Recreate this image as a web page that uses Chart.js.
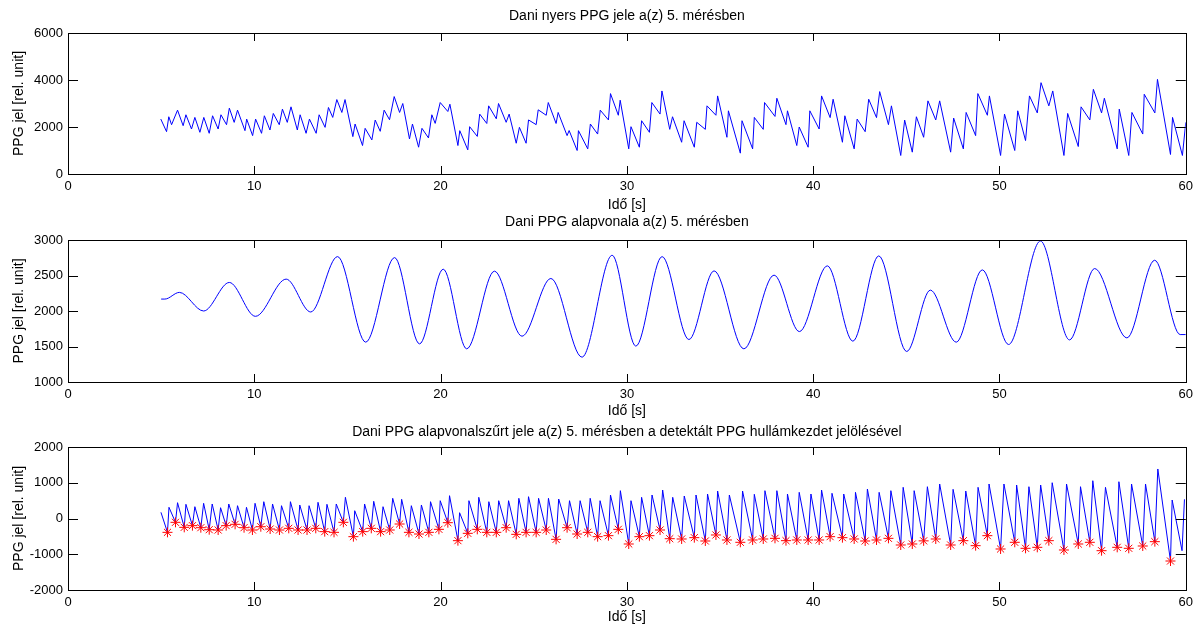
<!DOCTYPE html>
<html>
<head>
<meta charset="utf-8">
<script src="https://cdn.jsdelivr.net/npm/chart.js@4.4.1/dist/chart.umd.min.js"></script>
<style>
  body { margin: 0; background: #fff; }
  .panel { position: absolute; left: 0; width: 1198px; }
</style>
</head>
<body>
<div class="panel" style="top:0px;height:215px"><canvas id="rawChart" width="1198" height="215"></canvas></div>
<div class="panel" style="top:215px;height:205px"><canvas id="baseChart" width="1198" height="205"></canvas></div>
<div class="panel" style="top:420px;height:210px"><canvas id="filtChart" width="1198" height="210"></canvas></div>
<script>
// titles
var titleRaw = 'Dani nyers PPG jele a(z) 5. mérésben';
var titleBase = 'Dani PPG alapvonala a(z) 5. mérésben';
var titleFilt = 'Dani PPG alapvonalszűrt jele a(z) 5. mérésben a detektált PPG hullámkezdet jelölésével';
var xLabel = 'Idő [s]';
var yLabel = 'PPG jel [rel. unit]';

// tick labels
var xTicks = [0, 10, 20, 30, 40, 50, 60];
var rawTicks = [0, 2000, 4000, 6000];
var baseTicks = [1000, 1500, 2000, 2500, 3000];
var filtTicks = [-2000, -1000, 0, 1000, 2000];

// raw signal
var rawTimes = [4.98, 5.29, 5.41, 5.56, 5.88, 6.18, 6.33, 6.63, 6.81, 7.08, 7.29, 7.58, 7.76, 8.06, 8.21, 8.51, 8.66, 8.92, 9.10, 9.50,
  9.59, 9.91, 10.07, 10.39, 10.54, 10.84, 11.02, 11.34, 11.51, 11.77, 11.97, 12.31, 12.46, 12.78, 12.96, 13.32, 13.48, 13.80, 13.98, 14.21,
  14.43, 14.70, 14.87, 15.29, 15.41, 15.81, 15.95, 16.31, 16.49, 16.76, 16.97, 17.26, 17.51, 17.80, 17.97, 18.33, 18.49, 18.82, 19.00, 19.35,
  19.53, 19.71, 19.98, 20.39, 20.50, 20.93, 21.03, 21.46, 21.56, 21.97, 22.10, 22.48, 22.58, 22.99, 23.11, 23.52, 23.68, 24.06, 24.23, 24.59,
  24.72, 25.13, 25.24, 25.67, 25.78, 26.20, 26.31, 26.79, 26.90, 27.33, 27.40, 27.90, 28.04, 28.43, 28.57, 29.01, 29.12, 29.54, 29.64, 30.10,
  30.22, 30.67, 30.79, 31.21, 31.34, 31.78, 31.88, 32.30, 32.45, 32.94, 33.07, 33.62, 33.75, 34.21, 34.30, 34.78, 34.87, 35.37, 35.45, 36.09,
  36.18, 36.75, 36.84, 37.32, 37.39, 37.95, 38.05, 38.54, 38.62, 39.12, 39.25, 39.73, 39.82, 40.32, 40.45, 40.91, 41.07, 41.57, 41.70, 42.20,
  42.36, 42.79, 42.98, 43.40, 43.57, 44.04, 44.20, 44.70, 44.91, 45.32, 45.54, 45.93, 46.16, 46.58, 46.79, 47.38, 47.54, 48.06, 48.21, 48.72,
  48.84, 49.35, 49.46, 50.06, 50.27, 50.82, 50.98, 51.40, 51.61, 52.03, 52.23, 52.65, 52.86, 53.46, 53.66, 54.23, 54.38, 54.85, 55.04, 55.48,
  55.63, 56.32, 56.43, 56.94, 57.11, 57.69, 57.77, 58.34, 58.48, 59.18, 59.29, 59.82, 60.00];
var rawValues = [2338, 1802, 2436, 2098, 2717, 2056, 2520, 1915, 2408, 1774, 2408, 1732, 2478, 1915, 2520, 2098, 2802, 2197, 2717, 1844,
  2337, 1633, 2337, 1732, 2478, 1873, 2577, 2098, 2760, 2197, 2858, 1873, 2520, 1732, 2337, 1732, 2520, 1985, 2830, 2408,
  3168, 2619, 3168, 1591, 2126, 1211, 1943, 1450, 2295, 1816, 2717, 2309, 3295, 2619, 2999, 1492, 2126, 1140, 1943, 1535,
  2520, 2154, 3041, 2660, 2970, 1211, 1844, 1028, 2013, 1600, 2548, 2150, 2900, 2350, 2999, 2200, 2548, 1309, 1985, 1309,
  2300, 2100, 2731, 2500, 3041, 2150, 2619, 1633, 1850, 1000, 1844, 1070, 2126, 1700, 2717, 2300, 3421, 2500, 3140, 1070,
  2013, 1140, 2267, 1774, 3041, 2550, 3534, 1900, 2436, 1351, 2267, 1140, 2200, 1900, 2900, 2500, 3323, 1563, 2689, 887,
  2267, 1070, 2408, 1900, 3041, 2450, 3224, 2100, 2689, 1211, 2000, 1140, 2689, 1915, 3323, 2400, 3182, 1351, 2478, 1070,
  2337, 1800, 3182, 2400, 3506, 2100, 2900, 788, 2295, 929, 2436, 1563, 3112, 2300, 3112, 929, 2380, 1070, 2619, 1633,
  3421, 2500, 3323, 788, 2548, 1000, 2689, 1422, 3323, 2600, 3886, 2900, 3534, 788, 2577, 1169, 2858, 2300, 3604, 2600,
  3224, 1070, 2760, 788, 2619, 1700, 3393, 2600, 4027, 831, 2408, 788, 2197];

// baseline (middle panel), turning points of the wave
var baseTimes = [5.00, 5.20, 5.98, 7.28, 8.66, 10.06, 11.71, 13.03, 14.47, 15.98, 17.53, 18.87, 20.14, 21.40, 22.89, 24.37, 25.92, 27.59,
  29.21, 30.48, 31.89, 33.33, 34.68, 36.28, 37.90, 39.26, 40.76, 42.13, 43.52, 45.02, 46.29, 47.68, 49.08, 50.49, 52.20, 53.76,
  55.11, 56.84, 58.33, 59.70, 60.00];
var baseValues = [2168, 2168, 2262, 2000, 2402, 1925, 2449, 1986, 2766, 1561, 2752, 1537, 2589, 1467, 2561, 1645, 2458, 1350,
  2785, 1505, 2766, 1598, 2565, 1467, 2505, 1710, 2636, 1575, 2776, 1430, 2294, 1561, 2579, 1528, 2986, 1593,
  2598, 1621, 2715, 1668, 1668];

// filtered signal: detected wave onsets (red stars) and the peak after each one
var onsetTimes = [5.34, 5.77, 6.24, 6.68, 7.13, 7.58, 8.06, 8.49, 8.97, 9.45, 9.90, 10.35, 10.85, 11.35, 11.85, 12.35, 12.83, 13.30, 13.78, 14.28,
  14.78, 15.32, 15.82, 16.28, 16.78, 17.27, 17.80, 18.30, 18.84, 19.37, 19.91, 20.39, 20.93, 21.46, 21.97, 22.48, 22.99, 23.52, 24.06, 24.59,
  25.13, 25.67, 26.20, 26.79, 27.33, 27.90, 28.43, 29.01, 29.54, 30.10, 30.67, 31.21, 31.78, 32.30, 32.94, 33.62, 34.21, 34.78, 35.37, 36.09,
  36.75, 37.32, 37.95, 38.54, 39.12, 39.73, 40.32, 40.91, 41.57, 42.20, 42.79, 43.40, 44.04, 44.70, 45.32, 45.93, 46.58, 47.38, 48.06, 48.72,
  49.35, 50.06, 50.82, 51.40, 52.03, 52.65, 53.46, 54.23, 54.85, 55.48, 56.32, 56.94, 57.69, 58.34, 59.18];
var onsetValues = [-387, -107, -247, -200, -257, -313, -322, -200, -163, -257, -322, -230, -294, -322, -275, -322, -322, -275, -368, -387,
  -107, -508, -368, -275, -368, -322, -154, -387, -434, -387, -303, -117, -620, -415, -303, -387, -387, -257, -443, -387,
  -387, -322, -583, -257, -434, -387, -508, -480, -303, -713, -508, -480, -322, -565, -573, -536, -629, -461, -601, -666,
  -601, -573, -555, -620, -601, -601, -601, -508, -536, -573, -629, -601, -555, -741, -713, -625, -573, -741, -620, -760,
  -480, -853, -666, -834, -806, -620, -881, -713, -666, -900, -806, -834, -769, -648, -1189];
var peakTimes = [5.42, 5.88, 6.33, 6.81, 7.28, 7.74, 8.19, 8.63, 9.10, 9.58, 10.04, 10.51, 10.98, 11.46, 11.94, 12.44, 12.94, 13.42, 13.90, 14.40,
  14.89, 15.39, 15.92, 16.41, 16.91, 17.43, 17.91, 18.43, 18.97, 19.46, 19.98, 20.48, 21.02, 21.52, 22.05, 22.59, 23.12, 23.65, 24.20, 24.72,
  25.26, 25.79, 26.34, 26.92, 27.49, 28.03, 28.56, 29.12, 29.65, 30.22, 30.79, 31.35, 31.92, 32.46, 33.08, 33.71, 34.33, 34.87, 35.50, 36.21,
  36.84, 37.41, 38.05, 38.62, 39.25, 39.88, 40.45, 41.01, 41.64, 42.27, 42.91, 43.54, 44.17, 44.83, 45.42, 46.13, 46.79, 47.51, 48.19, 48.85,
  49.44, 50.24, 50.92, 51.58, 52.21, 52.83, 53.60, 54.35, 55.01, 55.69, 56.41, 57.09, 57.84, 58.50, 59.27];
var peakValues = [313, 442, 397, 330, 425, 406, 302, 406, 358, 313, 425, 470, 406, 358, 470, 378, 358, 453, 397, 406,
  593, 218, 406, 481, 330, 565, 537, 358, 378, 470, 498, 638, 162, 498, 593, 470, 498, 498, 565, 610,
  565, 565, 545, 498, 498, 565, 498, 657, 778, 498, 593, 657, 797, 593, 629, 657, 685, 769, 657, 769,
  677, 778, 778, 685, 732, 685, 797, 705, 685, 732, 825, 732, 778, 872, 778, 889, 965, 816, 769, 872,
  965, 965, 937, 889, 937, 1001, 965, 889, 1057, 872, 1029, 965, 965, 1385, 517];
// start and end of the filtered trace
var filtHeadTimes = [4.99];
var filtHeadValues = [173];
var filtTailTimes = [59.80, 59.93];
var filtTailValues = [-900, 537];

var FONT = 'Liberation Sans';

function toPoints(ts, vs) {
  var pts = [];
  for (var i = 0; i < ts.length; i++) {
    pts.push({ x: ts[i], y: vs[i] });
  }
  return pts;
}

var filtPoints = toPoints(filtHeadTimes, filtHeadValues);
for (var i = 0; i < onsetTimes.length; i++) {
  filtPoints.push({ x: onsetTimes[i], y: onsetValues[i] });
  filtPoints.push({ x: peakTimes[i], y: peakValues[i] });
}
filtPoints = filtPoints.concat(toPoints(filtTailTimes, filtTailValues));

// matlab-like box, inward ticks and panel title
var boxPlugin = {
  id: 'matlabBox',
  afterDraw: function (chart, args, opts) {
    var ctx = chart.ctx;
    var a = chart.chartArea;
    var xs = chart.scales.x;
    var ys = chart.scales.y;
    ctx.save();
    ctx.strokeStyle = '#000';
    ctx.lineWidth = 1;
    ctx.strokeRect(Math.round(a.left) + 0.5, Math.round(a.top) + 0.5, Math.round(a.right - a.left), Math.round(a.bottom - a.top));
    ctx.beginPath();
    xTicks.forEach(function (v) {
      var px = Math.round(xs.getPixelForValue(v)) + 0.5;
      ctx.moveTo(px, a.bottom);
      ctx.lineTo(px, a.bottom - 8);
      ctx.moveTo(px, a.top);
      ctx.lineTo(px, a.top + 8);
    });
    opts.yTicks.forEach(function (v) {
      var py = Math.round(ys.getPixelForValue(v)) + 0.5;
      ctx.moveTo(a.left, py);
      ctx.lineTo(a.left + 10, py);
      ctx.moveTo(a.right, py);
      ctx.lineTo(a.right - 10, py);
    });
    ctx.stroke();
    ctx.fillStyle = '#000';
    ctx.font = '14px "' + FONT + '"';
    ctx.textAlign = 'center';
    ctx.textBaseline = 'middle';
    ctx.fillText(opts.title, (a.left + a.right) / 2, opts.titleY);
    ctx.restore();
  }
};

function plainTick(v) {
  return String(v);
}

function makePanel(id, datasets, yMin, yMax, yStep, yTicks, title, titleY, padTop, xHeight, xTitlePad) {
  var ctx = document.getElementById(id).getContext('2d');
  return new Chart(ctx, {
    type: 'line',
    data: { datasets: datasets },
    options: {
      responsive: false,
      animation: false,
      layout: { padding: { top: padTop, right: 11, left: 0, bottom: 0 } },
      scales: {
        x: {
          type: 'linear',
          min: 0,
          max: 60,
          grid: { display: false, drawTicks: false },
          border: { display: false },
          ticks: { stepSize: 10, padding: 5, color: '#000', font: { family: FONT, size: 13 }, callback: plainTick },
          title: { display: true, text: xLabel, color: '#000', font: { family: FONT, size: 14 }, padding: { top: 0, bottom: xTitlePad } },
          afterFit: function (s) { s.height = xHeight; }
        },
        y: {
          min: yMin,
          max: yMax,
          grid: { display: false, drawTicks: false },
          border: { display: false },
          ticks: { stepSize: yStep, padding: 5, color: '#000', font: { family: FONT, size: 13 }, callback: plainTick },
          title: { display: true, text: yLabel, color: '#000', font: { family: FONT, size: 14 }, padding: { top: 11, bottom: 0 } },
          afterFit: function (s) { s.width = 68; }
        }
      },
      plugins: {
        legend: { display: false },
        tooltip: { enabled: false },
        matlabBox: { title: title, titleY: titleY, yTicks: yTicks }
      }
    },
    plugins: [boxPlugin]
  });
}

makePanel('rawChart', [{
  data: toPoints(rawTimes, rawValues),
  borderColor: '#0000ff',
  borderWidth: 1,
  pointRadius: 0,
  tension: 0
}], 0, 6000, 2000, rawTicks, titleRaw, 16, 33, 41, 1.6);

makePanel('baseChart', [{
  data: toPoints(baseTimes, baseValues),
  borderColor: '#0000ff',
  borderWidth: 1,
  pointRadius: 0,
  cubicInterpolationMode: 'monotone'
}], 1000, 3000, 500, baseTicks, titleBase, 7, 25, 38, 0.6);

makePanel('filtChart', [{
  data: toPoints(onsetTimes, onsetValues),
  showLine: false,
  pointStyle: 'star',
  pointRadius: 5,
  borderColor: '#ff0000',
  backgroundColor: '#ff0000',
  borderWidth: 1
}, {
  data: filtPoints,
  borderColor: '#0000ff',
  borderWidth: 1,
  pointRadius: 0,
  tension: 0
}], -2000, 2000, 1000, filtTicks, titleFilt, 12, 27, 40, 4.6);
</script>
</body>
</html>
